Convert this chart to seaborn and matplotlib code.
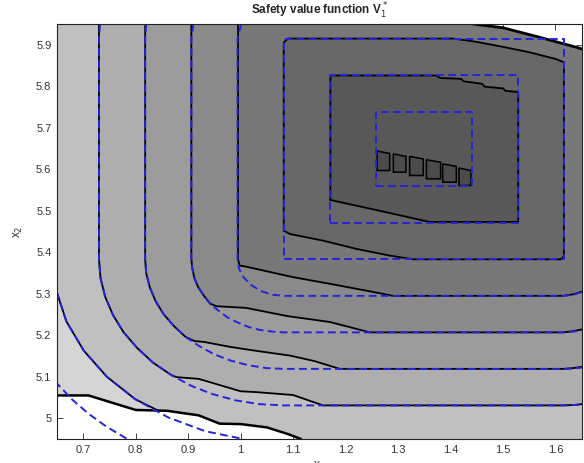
import matplotlib
matplotlib.use("Agg")
import matplotlib.pyplot as plt
import seaborn as sns

# ---- black contours of the computed value function (x1, x2)
c1_x = [0.65, 0.71, 0.80, 0.86, 0.92, 0.96, 1.00, 1.05, 1.09, 1.115]
c1_y = [5.055, 5.055, 5.020, 5.018, 5.007, 4.987, 4.986, 4.978, 4.962, 4.95]

c2_x = [0.649, 0.668, 0.701, 0.745, 0.799, 0.845]
c2_y = [5.306, 5.233, 5.163, 5.100, 5.046, 5.017]

c3_x = [0.730, 0.730, 0.733, 0.742, 0.757, 0.777, 0.803, 0.833, 0.868, 0.878,
        0.92, 0.96, 1.00, 1.03, 1.10, 1.157, 1.615, 1.635, 1.65]
c3_y = [5.95, 5.383, 5.337, 5.292, 5.248, 5.207, 5.169, 5.134, 5.104, 5.099,
        5.095, 5.080, 5.065, 5.063, 5.056, 5.031, 5.031, 5.032, 5.034]

c4_x = [0.818, 0.818, 0.820, 0.827, 0.838, 0.853, 0.873, 0.895, 0.912,
        0.93, 0.98, 1.027, 1.094, 1.14, 1.189, 1.615, 1.635, 1.65]
c4_y = [5.95, 5.383, 5.349, 5.315, 5.282, 5.251, 5.222, 5.196, 5.186,
        5.184, 5.172, 5.163, 5.151, 5.138, 5.119, 5.119, 5.121, 5.124]

c5_x = [0.906, 0.906, 0.908, 0.912, 0.919, 0.930, 0.942, 0.954,
        1.01, 1.09, 1.17, 1.246, 1.615, 1.635, 1.65]
c5_y = [5.95, 5.383, 5.360, 5.337, 5.316, 5.295, 5.276, 5.270,
        5.266, 5.246, 5.232, 5.207, 5.207, 5.210, 5.214]

c6_x = [0.995, 0.995, 0.998, 1.008, 1.10, 1.17, 1.25, 1.29, 1.615, 1.635, 1.65]
c6_y = [5.95, 5.383, 5.368, 5.366, 5.340, 5.324, 5.305, 5.295, 5.295, 5.299, 5.305]

c7_x = [1.082, 1.082, 1.090, 1.405, 1.45, 1.50, 1.55, 1.60, 1.616, 1.616, 1.610, 1.329, 1.284, 1.221, 1.157, 1.094, 1.082]
c7_y = [5.452, 5.905, 5.915, 5.915, 5.907, 5.895, 5.882, 5.866, 5.858, 5.390, 5.383, 5.383, 5.392, 5.408, 5.428, 5.444, 5.452]

c8_x = [1.171, 1.171, 1.373, 1.38, 1.42, 1.425, 1.46, 1.465, 1.50, 1.505, 1.529, 1.529, 1.360, 1.265, 1.171]
c8_y = [5.526, 5.826, 5.826, 5.820, 5.818, 5.812, 5.806, 5.799, 5.795, 5.789, 5.786, 5.473, 5.473, 5.500, 5.526]

# small islands of the highest level
sq_left = [1.260, 1.291, 1.322, 1.354, 1.385, 1.416]
sq_right = [1.284, 1.315, 1.348, 1.381, 1.411, 1.439]
sq_bottom = [5.597, 5.593, 5.585, 5.577, 5.569, 5.561]
sq_top = [5.644, 5.637, 5.631, 5.623, 5.613, 5.603]

# top-right edge of the unsafe (white) corner
tr_x = [1.443, 1.50, 1.57, 1.64, 1.65]
tr_y = [5.95, 5.941, 5.918, 5.894, 5.890]

# ---- blue dashed level sets of the reference function
ba_x = [0.646, 0.679, 0.710, 0.744, 0.788]
ba_y = [5.089, 5.045, 5.011, 4.980, 4.947]
bb_x = [0.649, 0.668, 0.701, 0.745, 0.799, 0.862, 0.932, 1.005]
bb_y = [5.306, 5.233, 5.163, 5.100, 5.046, 5.002, 4.969, 4.950]
bc_x = [0.732, 0.730, 0.730, 0.733, 0.742, 0.757, 0.777, 0.803, 0.833, 0.868,
        0.906, 0.947, 0.991, 1.036, 1.082, 1.616, 1.635, 1.65]
bc_y = [5.95, 5.915, 5.383, 5.337, 5.292, 5.248, 5.207, 5.169, 5.134, 5.104,
        5.078, 5.058, 5.043, 5.034, 5.031, 5.031, 5.032, 5.033]
bd_x = [0.820, 0.818, 0.818, 0.820, 0.827, 0.838, 0.853, 0.873, 0.895, 0.921,
        0.950, 0.981, 1.014, 1.048, 1.082, 1.616, 1.635, 1.65]
bd_y = [5.95, 5.915, 5.383, 5.349, 5.315, 5.282, 5.251, 5.222, 5.196, 5.174,
        5.154, 5.139, 5.128, 5.121, 5.119, 5.119, 5.120, 5.122]
be_x = [0.910, 0.906, 0.906, 0.908, 0.912, 0.919, 0.930, 0.942, 0.958, 0.975,
        0.994, 1.015, 1.036, 1.059, 1.082, 1.616, 1.635, 1.65]
be_y = [5.95, 5.915, 5.383, 5.360, 5.337, 5.316, 5.295, 5.276, 5.259, 5.243,
        5.231, 5.220, 5.213, 5.209, 5.207, 5.207, 5.209, 5.211]
bf_x = [1.001, 0.994, 0.994, 0.997, 1.006, 1.020, 1.038, 1.059, 1.082, 1.616, 1.635, 1.65]
bf_y = [5.95, 5.915, 5.383, 5.360, 5.339, 5.321, 5.307, 5.298, 5.295, 5.295, 5.298, 5.304]

box_x0 = [1.082, 1.170, 1.258]
box_x1 = [1.616, 1.528, 1.440]
box_y0 = [5.383, 5.471, 5.559]
box_y1 = [5.915, 5.827, 5.739]

band_colors = ['#d5d5d5', '#c0c0c0', '#aeaeae', '#9c9c9c', '#8a8a8a',
               '#787878', '#676767', '#585858', '#4b4b4b']

xticks = [0.7, 0.8, 0.9, 1.0, 1.1, 1.2, 1.3, 1.4, 1.5, 1.6]
yticks = [5.0, 5.1, 5.2, 5.3, 5.4, 5.5, 5.6, 5.7, 5.8, 5.9]

sns.set_style('ticks')
plt.rcParams['font.family'] = ['Liberation Sans', 'DejaVu Sans']

fig = plt.figure(figsize=(5.84, 4.63), dpi=100)
ax = fig.add_axes([0.0976, 0.0518, 0.8985, 0.8963])

# closing path along the right edge and the white top-right corner
close_x = [1.65, 1.65] + tr_x[::-1]
close_y = [4.95, 5.890] + tr_y[::-1]

# filled bands
ax.fill(c1_x + close_x + [0.65], c1_y + close_y + [5.95], color=band_colors[0], lw=0, zorder=1)
tail = [i for i, v in enumerate(c1_x) if v > c2_x[-1]]
ax.fill(c2_x + [c1_x[i] for i in tail] + close_x + [0.65],
        c2_y + [c1_y[i] for i in tail] + close_y + [5.95],
        color=band_colors[1], lw=0, zorder=1)
for k, (cx, cy) in enumerate([(c3_x, c3_y), (c4_x, c4_y), (c5_x, c5_y), (c6_x, c6_y)]):
    ax.fill(cx + close_x[1:], cy + close_y[1:], color=band_colors[2 + k], lw=0, zorder=1)
ax.fill(c7_x, c7_y, color=band_colors[6], lw=0, zorder=1)
ax.fill(c8_x, c8_y, color=band_colors[7], lw=0, zorder=1)
for l, r, b, t in zip(sq_left, sq_right, sq_bottom, sq_top):
    ax.fill([l, l, r, r, l], [b, t, t - 0.006, b, b], color=band_colors[8],
            ec='black', lw=1.1, zorder=4)

# black contour lines
black = dict(color='black', sort=False, estimator=None, ax=ax, zorder=3)
sns.lineplot(x=c1_x, y=c1_y, lw=1.8, **black)
sns.lineplot(x=tr_x, y=tr_y, lw=2.0, **black)
for cx, cy in [(c2_x, c2_y), (c3_x, c3_y), (c4_x, c4_y), (c5_x, c5_y),
               (c6_x, c6_y), (c7_x, c7_y), (c8_x, c8_y)]:
    sns.lineplot(x=cx, y=cy, lw=1.3, **black)

# blue dashed reference level sets
blue = dict(color='#2424dc', sort=False, estimator=None, ax=ax, zorder=5,
            lw=1.4, linestyle=(0, (4, 2.2)))
for bx, by in [(ba_x, ba_y), (bb_x, bb_y), (bc_x, bc_y), (bd_x, bd_y),
               (be_x, be_y), (bf_x, bf_y)]:
    sns.lineplot(x=bx, y=by, **blue)
for x0, x1, y0, y1 in zip(box_x0, box_x1, box_y0, box_y1):
    sns.lineplot(x=[x0, x1, x1, x0, x0], y=[y0, y0, y1, y1, y0], **blue)

ax.set_xlim(0.65, 1.65)
ax.set_ylim(4.95, 5.95)
ax.set_xticks(xticks)
ax.set_xticklabels(['%g' % v for v in xticks])
ax.set_yticks(yticks)
ax.set_yticklabels(['%g' % v for v in yticks])
ax.tick_params(direction='in', top=True, right=True, length=4, width=0.6,
               labelsize=8, labelcolor='#333333', pad=4)
for s in ax.spines.values():
    s.set_linewidth(0.8)
    s.set_color('#222222')
    s.set_zorder(6)

ax.set_title('Safety value function V$_1^*$', fontsize=8.5, fontweight='bold', pad=7)
ax.set_ylabel('x$_2$', fontsize=8.5, labelpad=8, color='#333333')
ax.set_xlabel('x$_1$', fontsize=8.5, labelpad=4, color='#333333')

fig.savefig('out.png', dpi=100)
